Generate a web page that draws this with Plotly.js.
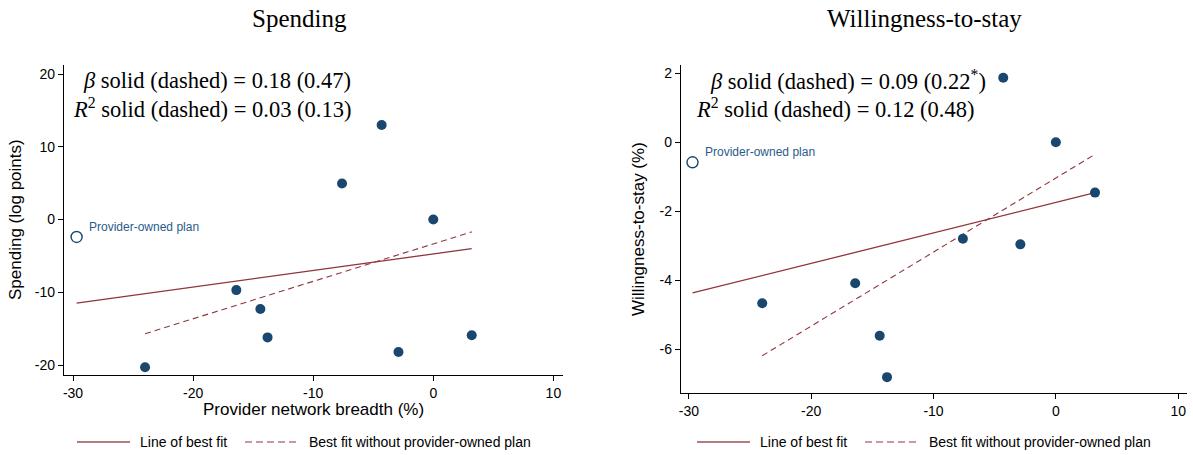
<!DOCTYPE html>
<html>
<head>
<meta charset="utf-8">
<script src="https://cdn.plot.ly/plotly-3.0.1.min.js"></script>
<style>
  html, body { margin: 0; padding: 0; background: #fff; }
  #graph { width: 1193px; height: 455px; }
</style>
</head>
<body>
<div id="graph"></div>
<script>
// Data
const ownedX = [-29.7];
const ownedSpending = [-2.4];
const ownedStay = [-0.58];

const planX = [-24.0, -16.4, -14.4, -13.8, -7.6, -4.3, -2.9, 0, 3.2];
const planSpending = [-20.3, -9.7, -12.3, -16.2, 4.95, 13.0, -18.2, 0, -15.9];
const planStay = [-4.67, -4.09, -5.61, -6.81, -2.8, 1.87, -2.96, 0, -1.46];

const fitX = [-29.7, 3.2];
const fitSpending = [-11.5, -4.0];
const fitStay = [-4.37, -1.46];

const fitNoOwnedX = [-24.0, 3.2];
const fitNoOwnedSpending = [-15.7, -1.7];
const fitNoOwnedStay = [-6.19, -0.35];

const xTicks = [-30, -20, -10, 0, 10];
const spendingTicks = [-20, -10, 0, 10, 20];
const stayTicks = [-6, -4, -2, 0, 2];

const panelTitles = ["Spending", "Willingness-to-stay"];
const statLines = [
  ["<i>β</i> solid (dashed) = 0.18 (0.47)", "<i>R</i><sup>2</sup> solid (dashed) = 0.03 (0.13)"],
  ["<i>β</i> solid (dashed) = 0.09 (0.22<sup>*</sup>)", "<i>R</i><sup>2</sup> solid (dashed) = 0.12 (0.48)"],
];
const legendLabels = ["Line of best fit", "Best fit without provider-owned plan"];
const ownedLabel = "Provider-owned plan";

// Styles
const W = 1193, H = 455;
const NAVY = "#1a476f";
const MAROON = "#90353b";
const SANS = "Liberation Sans, Arial, sans-serif";
const SERIF = "Liberation Serif, Times New Roman, serif";

const px = (x) => x / W;
const py = (y) => 1 - y / H;
const minusText = (v) => String(v).replace("\u2212", "-");

function axis(domain, range, ticks, anchor) {
  return {
    domain: domain,
    range: range,
    anchor: anchor,
    tickmode: "array",
    tickvals: ticks,
    ticktext: ticks.map(minusText),
    ticks: "outside",
    ticklen: 5,
    tickwidth: 1,
    tickcolor: "#000",
    showline: true,
    linecolor: "#000",
    linewidth: 1.2,
    mirror: false,
    showgrid: false,
    zeroline: false,
    automargin: false,
    tickfont: { family: SANS, size: 14, color: "#000" },
  };
}

function panelTraces(xa, ya, ys, fitY, fitNoY, ownY) {
  return [
    {
      x: fitX, y: fitY, xaxis: xa, yaxis: ya, mode: "lines", type: "scatter",
      line: { color: MAROON, width: 1.3 }, showlegend: false, hoverinfo: "skip",
    },
    {
      x: fitNoOwnedX, y: fitNoY, xaxis: xa, yaxis: ya, mode: "lines", type: "scatter",
      line: { color: MAROON, width: 1.1, dash: "6px,4px" }, showlegend: false, hoverinfo: "skip",
    },
    {
      x: planX, y: ys, xaxis: xa, yaxis: ya, mode: "markers", type: "scatter",
      marker: { color: NAVY, size: 10, line: { width: 0 } }, showlegend: false,
    },
    {
      x: ownedX, y: ownY, xaxis: xa, yaxis: ya, mode: "markers", type: "scatter",
      marker: { symbol: "circle-open", color: NAVY, size: 11, line: { width: 1.4, color: NAVY } },
      showlegend: false,
    },
  ];
}

const data = [
  ...panelTraces("x", "y", planSpending, fitSpending, fitNoOwnedSpending, ownedSpending),
  ...panelTraces("x2", "y2", planStay, fitStay, fitNoOwnedStay, ownedStay),
];

const annotations = [];
const shapes = [];

function textNote(text, x, y, font, opts) {
  annotations.push(Object.assign({
    text: text, xref: "paper", yref: "paper", x: px(x), y: py(y),
    showarrow: false, xanchor: "center", yanchor: "middle", font: font,
  }, opts || {}));
}

const titleFont = { family: SERIF, size: 25, color: "#000" };
const statFont = { family: SERIF, size: 22.5, color: "#000" };
const axisTitleFont = { family: SANS, size: 17, color: "#000" };
const legendFont = { family: SANS, size: 14, color: "#000" };

// panel titles
textNote(panelTitles[0], 299, 19, titleFont);
textNote(panelTitles[1], 924, 19, titleFont);

// stat lines (right-aligned at their measured ends)
textNote(statLines[0][0], 353, 80, statFont, { xanchor: "right" });
textNote(statLines[0][1], 353, 108, statFont, { xanchor: "right" });
textNote(statLines[1][0], 988, 80, statFont, { xanchor: "right" });
textNote(statLines[1][1], 976, 108, statFont, { xanchor: "right" });

// axis titles
textNote("Spending (log points)", 15, 220, axisTitleFont, { textangle: -90 });
textNote("Willingness-to-stay (%)", 638, 229, axisTitleFont, { textangle: -90 });
textNote("Provider network breadth (%)", 313, 409, axisTitleFont);

// provider-owned plan label, attached to the hollow point
[["x", "y", ownedSpending], ["x2", "y2", ownedStay]].forEach(([xa, ya, ys]) => {
  annotations.push({
    text: ownedLabel, xref: xa, yref: ya, x: ownedX[0], y: ys[0],
    xanchor: "left", yanchor: "middle", xshift: 10, yshift: 10,
    showarrow: false, font: { family: SANS, size: 12, color: "#2b5b8a" },
  });
});

// legends drawn under each panel
[0, 620].forEach((off) => {
  const ly = py(442);
  shapes.push({
    type: "line", xref: "paper", yref: "paper",
    x0: px(77 + off), x1: px(130 + off), y0: ly, y1: ly,
    line: { color: "#b77a7e", width: 2 },
  });
  shapes.push({
    type: "line", xref: "paper", yref: "paper",
    x0: px(245 + off), x1: px(298 + off), y0: ly, y1: ly,
    line: { color: "#b77a7e", width: 1.5, dash: "7px,4px" },
  });
  textNote(legendLabels[0], 138 + off, 442, legendFont, { xanchor: "left" });
  textNote(legendLabels[1], 307 + off, 442, legendFont, { xanchor: "left" });
});

const layout = {
  width: W,
  height: H,
  margin: { l: 0, r: 0, t: 0, b: 0 },
  paper_bgcolor: "#fff",
  plot_bgcolor: "#fff",
  showlegend: false,
  xaxis: axis([px(64), px(563)], [-30.75, 10.8], xTicks, "y"),
  yaxis: axis([py(375), py(65)], [-21.37, 21.24], spendingTicks, "x"),
  xaxis2: axis([px(681), px(1187)], [-30.64, 10.72], xTicks, "y2"),
  yaxis2: axis([py(393), py(65)], [-7.27, 2.24], stayTicks, "x2"),
  annotations: annotations,
  shapes: shapes,
};

Plotly.newPlot("graph", data, layout, { staticPlot: true });
</script>
</body>
</html>
